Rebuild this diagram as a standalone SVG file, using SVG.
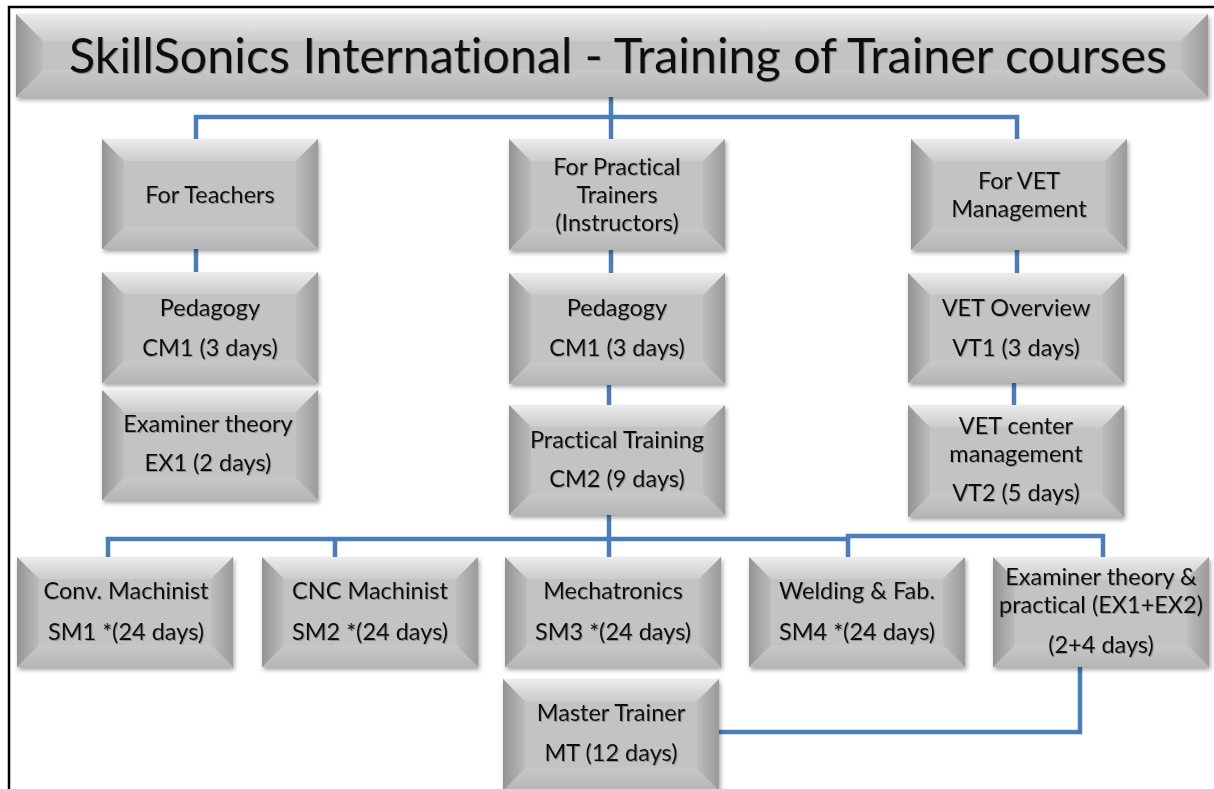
<svg xmlns="http://www.w3.org/2000/svg" xmlns:xlink="http://www.w3.org/1999/xlink" width="1214" height="789" viewBox="0 0 1214 789">
<style>
.t{font-family:Lato,"Open Sans","Liberation Sans",sans-serif;font-size:23.5px;fill:#111;text-anchor:middle;filter:url(#ts);font-variant-ligatures:none;font-feature-settings:"liga" 0}
.title{font-size:48px}
.c{fill:none;stroke:#4a7ebb;stroke-width:4.5}
</style>
<defs>
<linearGradient id="gTop" x1="0" y1="0" x2="0" y2="1"><stop offset="0" stop-color="#ececec"/><stop offset="1" stop-color="#cbcbcb"/></linearGradient>
<linearGradient id="gBot" x1="0" y1="0" x2="0" y2="1"><stop offset="0" stop-color="#c8c8c8"/><stop offset="1" stop-color="#b5b5b5"/></linearGradient>
<linearGradient id="gL" x1="0" y1="0" x2="1" y2="0"><stop offset="0" stop-color="#939393"/><stop offset="1" stop-color="#bcbcbc"/></linearGradient>
<linearGradient id="gR" x1="0" y1="0" x2="1" y2="0"><stop offset="0" stop-color="#bdbdbd"/><stop offset="1" stop-color="#9a9a9a"/></linearGradient>
<filter id="sh" x="-5%" y="-5%" width="112%" height="120%"><feDropShadow dx="1.5" dy="3" stdDeviation="2" flood-color="#000" flood-opacity="0.35"/></filter>
<filter id="ts" x="-5%" y="-20%" width="110%" height="140%"><feDropShadow dx="1" dy="1" stdDeviation="0.7" flood-color="#555" flood-opacity="0.45"/></filter>
<symbol id="bev" viewBox="0 0 216 110" preserveAspectRatio="none">
<rect x="0" y="0" width="216" height="110" fill="#c3c3c3"/>
<polygon points="0,0 216,0 194,22 22,22" fill="url(#gTop)"/>
<polygon points="0,110 216,110 194,88 22,88" fill="url(#gBot)"/>
<polygon points="0,0 22,22 22,88 0,110" fill="url(#gL)"/>
<polygon points="216,0 216,110 194,88 194,22" fill="url(#gR)"/>
</symbol>
<symbol id="bevT" viewBox="0 0 1192 83" preserveAspectRatio="none">
<rect x="0" y="0" width="1192" height="83" fill="#c3c3c3"/>
<polygon points="0,0 1192,0 1165,27 27,27" fill="url(#gTop)"/>
<polygon points="0,83 1192,83 1165,56 27,56" fill="url(#gBot)"/>
<polygon points="0,0 27,27 27,56 0,83" fill="url(#gL)"/>
<polygon points="1192,0 1192,83 1165,56 1165,27" fill="url(#gR)"/>
</symbol>
</defs>
<rect width="1214" height="789" fill="#fff"/>
<rect x="9" y="7" width="1230" height="800" fill="none" stroke="#000" stroke-width="2.5"/>

<g id="connectors">
<path class="c" d="M611,97 V139"/>
<path class="c" d="M196,139 V117 H1017 V139"/>
<path class="c" d="M196,249 V272"/>
<path class="c" d="M611,250 V273"/>
<path class="c" d="M1017,250 V273"/>
<path class="c" d="M1014,383 V405"/>
<path class="c" d="M609,385 V405"/>
<path class="c" d="M609,515 V557"/>
<path class="c" d="M108,557 V539 H848 V557"/>
<path class="c" d="M335,539 V557"/>
<path class="c" d="M848,539 V536 H1103 V557"/>
<path class="c" d="M719,732 H1080 V667"/>
</g>

<g id="title"><use xlink:href="#bevT" href="#bevT" x="16" y="14" width="1192" height="83" filter="url(#sh)"/>
<text class="t title" x="618" y="73" textLength="1098" lengthAdjust="spacingAndGlyphs">SkillSonics International - Training of Trainer courses</text></g>

<g id="teachers"><use href="#bev" x="102" y="139" width="216" height="110" filter="url(#sh)"/>
<text class="t" x="210" y="203">For Teachers</text></g>
<g id="practical"><use href="#bev" x="509" y="139" width="216" height="111" filter="url(#sh)"/>
<text class="t" x="617" y="175">For Practical</text><text class="t" x="617" y="203">Trainers</text><text class="t" x="617" y="231">(Instructors)</text></g>
<g id="vetmgmt"><use href="#bev" x="911" y="139" width="216" height="111" filter="url(#sh)"/>
<text class="t" x="1019" y="189">For VET</text><text class="t" x="1019" y="217">Management</text></g>

<g id="ped1"><use href="#bev" x="102" y="272" width="216" height="111" filter="url(#sh)"/>
<text class="t" x="210" y="316">Pedagogy</text><text class="t" x="210" y="356">CM1 (3 days)</text></g>
<g id="ped2"><use href="#bev" x="509" y="273" width="216" height="111" filter="url(#sh)"/>
<text class="t" x="617" y="316">Pedagogy</text><text class="t" x="617" y="356">CM1 (3 days)</text></g>
<g id="vt1"><use href="#bev" x="908" y="273" width="216" height="110" filter="url(#sh)"/>
<text class="t" x="1016" y="316">VET Overview</text><text class="t" x="1016" y="356">VT1 (3 days)</text></g>

<g id="ex1"><use href="#bev" x="102" y="390" width="216" height="110" filter="url(#sh)"/>
<text class="t" x="208" y="432">Examiner theory</text><text class="t" x="208" y="471">EX1 (2 days)</text></g>
<g id="cm2"><use href="#bev" x="509" y="405" width="216" height="110" filter="url(#sh)"/>
<text class="t" x="617" y="448">Practical Training</text><text class="t" x="617" y="487">CM2 (9 days)</text></g>
<g id="vt2"><use href="#bev" x="908" y="405" width="216" height="112" filter="url(#sh)"/>
<text class="t" x="1016" y="434">VET center</text><text class="t" x="1016" y="462">management</text><text class="t" x="1016" y="501">VT2 (5 days)</text></g>

<g id="sm1"><use href="#bev" x="17" y="557" width="216" height="110" filter="url(#sh)"/>
<text class="t" x="126" y="599">Conv. Machinist</text><text class="t" x="126" y="640">SM1 *(24 days)</text></g>
<g id="sm2"><use href="#bev" x="262" y="557" width="216" height="110" filter="url(#sh)"/>
<text class="t" x="370" y="599">CNC Machinist</text><text class="t" x="370" y="640">SM2 *(24 days)</text></g>
<g id="sm3"><use href="#bev" x="505" y="557" width="216" height="110" filter="url(#sh)"/>
<text class="t" x="613" y="599">Mechatronics</text><text class="t" x="613" y="640">SM3 *(24 days)</text></g>
<g id="sm4"><use href="#bev" x="749" y="557" width="216" height="110" filter="url(#sh)"/>
<text class="t" x="857" y="599">Welding &amp; Fab.</text><text class="t" x="857" y="640">SM4 *(24 days)</text></g>
<g id="ex12"><use href="#bev" x="993" y="557" width="216" height="110" filter="url(#sh)"/>
<text class="t" x="1101" y="585">Examiner theory &amp;</text><text class="t" x="1101" y="613">practical (EX1+EX2)</text><text class="t" x="1101" y="653">(2+4 days)</text></g>
<g id="mt"><use href="#bev" x="503" y="679" width="216" height="112" filter="url(#sh)"/>
<text class="t" x="611" y="721">Master Trainer</text><text class="t" x="611" y="761">MT (12 days)</text></g>
</svg>
